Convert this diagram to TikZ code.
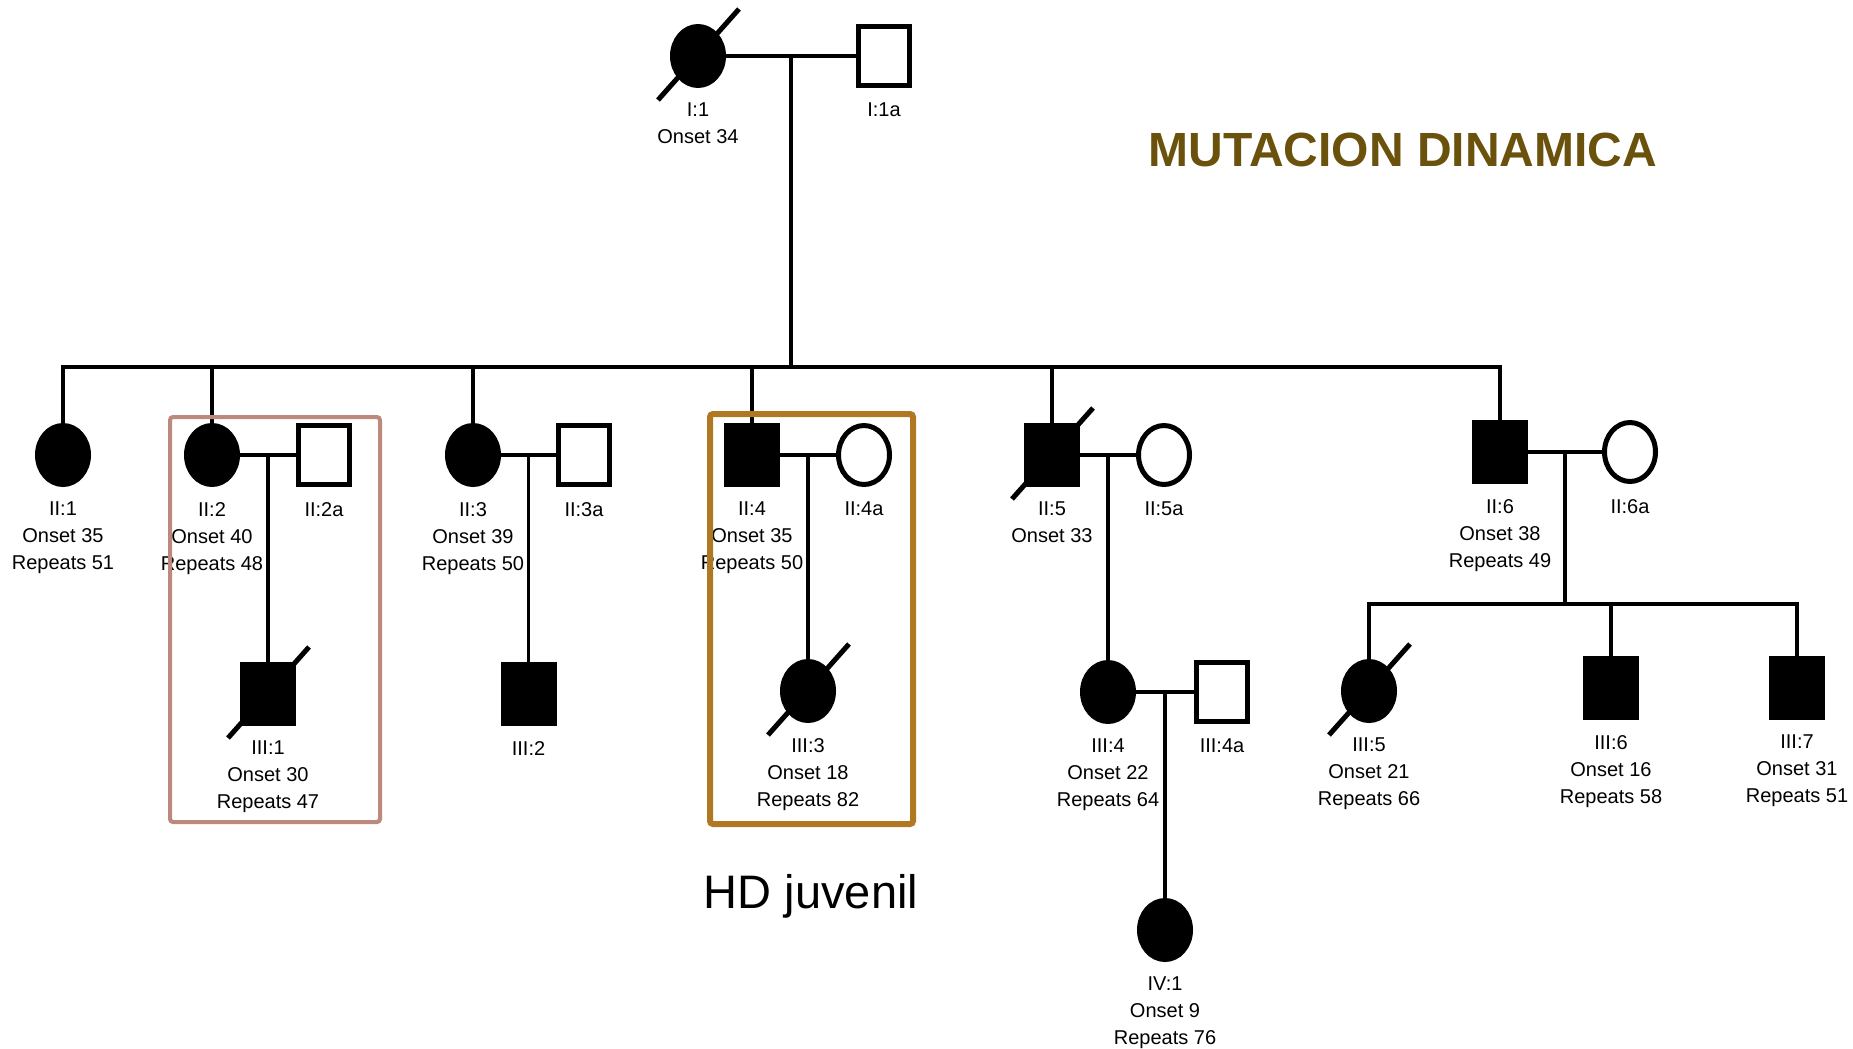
\documentclass[tikz,border=0pt]{standalone}
\usepackage{fontspec}
\setmainfont{Liberation Sans}
\usetikzlibrary{positioning,shapes.geometric,calc}
\definecolor{titlebrown}{RGB}{107,82,12}
\definecolor{rosebox}{RGB}{188,138,124}
\definecolor{goldbox}{RGB}{176,120,34}
\newcommand{\pedfont}{\fontsize{20bp}{27bp}\selectfont}

\begin{document}
\begin{tikzpicture}[x=1bp, y=1bp,
        male/.style={draw, rectangle, minimum width=51bp, minimum height=59bp,
                     inner sep=0pt, line width=5bp},
        female/.style={draw, ellipse, minimum width=51bp, minimum height=59bp,
                       inner sep=0pt, line width=5bp},
        aff/.style={fill=black},
        info/.style={font=\pedfont, align=center, inner sep=0pt, below=15bp of #1},
        link/.style={line width=3.5bp},
        deceased/.style={line width=5bp},
        groupbox/.style={line width=#1, rounded corners=3bp}
    ]
    \useasboundingbox (0,0) rectangle (1853,-1048);

    % generation I
    \node[female, aff] (i1) at (698,-56) {};
    \node[male, right=130bp of i1] (i1a) {};
    \node[info=i1] (i1t) {I:1\\Onset 34};
    \node[info=i1a] (i1at) {I:1a};
    \coordinate (mI) at ($(i1.east)!0.5!(i1a.west)$);
    \coordinate (sibI) at (mI |- 0,-367);

    % generation II
    \node[female, aff] (ii1) at (63,-455) {};
    \node[female, aff] (ii2) at (212,-455) {};
    \node[male, right=56bp of ii2] (ii2a) {};
    \node[female, aff] (ii3) at (473,-455) {};
    \node[male, right=55bp of ii3] (ii3a) {};
    \node[male, aff] (ii4) at (752,-455) {};
    \node[female, right=56bp of ii4] (ii4a) {};
    \node[male, aff] (ii5) at (1052,-455) {};
    \node[female, right=56bp of ii5] (ii5a) {};
    \node[male, aff] (ii6) at (1500,-452) {};
    \node[female, right=74bp of ii6] (ii6a) {};

    \node[info=ii1] (ii1t) {II:1\\Onset 35\\Repeats 51};
    \node[info=ii2] (ii2t) {II:2\\Onset 40\\Repeats 48};
    \node[info=ii2a] (ii2at) {II:2a};
    \node[info=ii3] (ii3t) {II:3\\Onset 39\\Repeats 50};
    \node[info=ii3a] (ii3at) {II:3a};
    \node[info=ii4] (ii4t) {II:4\\Onset 35\\Repeats 50};
    \node[info=ii4a] (ii4at) {II:4a};
    \node[info=ii5] (ii5t) {II:5\\Onset 33};
    \node[info=ii5a] (ii5at) {II:5a};
    \node[info=ii6] (ii6t) {II:6\\Onset 38\\Repeats 49};
    \node[info=ii6a] (ii6at) {II:6a};

    \coordinate (mii2) at ($(ii2.east)!0.5!(ii2a.west)$);
    \coordinate (mii3) at ($(ii3.east)!0.5!(ii3a.west)$);
    \coordinate (mii4) at ($(ii4.east)!0.5!(ii4a.west)$);
    \coordinate (mii5) at ($(ii5.east)!0.5!(ii5a.west)$);
    \coordinate (mii6) at ($(ii6.east)!0.5!(ii6a.west)$);
    \coordinate (sibII6) at (mii6 |- 0,-604);

    % generation III
    \node[male, aff] (iii1) at (mii2 |- 0,-694) {};
    \node[male, aff] (iii2) at (mii3 |- 0,-694) {};
    \node[female, aff] (iii3) at (mii4 |- 0,-691) {};
    \node[female, aff] (iii4) at (mii5 |- 0,-692) {};
    \node[male, right=58bp of iii4] (iii4a) {};
    \node[female, aff] (iii5) at (1369,-691) {};
    \node[male, aff] (iii6) at (1611,-688) {};
    \node[male, aff] (iii7) at (1797,-688) {};

    \node[info=iii1] (iii1t) {III:1\\Onset 30\\Repeats 47};
    \node[info=iii2] (iii2t) {III:2};
    \node[info=iii3] (iii3t) {III:3\\Onset 18\\Repeats 82};
    \node[info=iii4] (iii4t) {III:4\\Onset 22\\Repeats 64};
    \node[info=iii4a] (iii4at) {III:4a};
    \node[info=iii5] (iii5t) {III:5\\Onset 21\\Repeats 66};
    \node[info=iii6] (iii6t) {III:6\\Onset 16\\Repeats 58};
    \node[info=iii7] (iii7t) {III:7\\Onset 31\\Repeats 51};

    \coordinate (miii4) at ($(iii4.east)!0.5!(iii4a.west)$);

    % generation IV
    \node[female, aff] (iv1) at (miii4 |- 0,-930) {};
    \node[info=iv1] (iv1t) {IV:1\\Onset 9\\Repeats 76};

    % lines of descent
    \draw[link] (i1) -- (i1a);
    \draw[link] (mI) -- (sibI);
    \draw[link] (ii1) |- (sibI) -| (ii6);
    \foreach \n in {ii2,ii3,ii4,ii5}
        \draw[link] (\n) -- (\n |- sibI);
    \draw[link] (ii2) -- (ii2a);
    \draw[link] (ii3) -- (ii3a);
    \draw[link] (ii4) -- (ii4a);
    \draw[link] (ii5) -- (ii5a);
    \draw[link] (ii6) -- (ii6a);
    \draw[link] (mii2) -- (iii1);
    \draw[link] (mii3) -- (iii2);
    \draw[link] (mii4) -- (iii3);
    \draw[link] (mii5) -- (iii4);
    \draw[link] (mii6) -- (sibII6);
    \draw[link] (iii5) |- (sibII6) -| (iii7);
    \draw[link] (iii6) -- (iii6 |- sibII6);
    \draw[link] (iii4) -- (iii4a);
    \draw[link] (miii4) -- (iv1);

    % deceased
    \foreach \n in {i1,ii5,iii1,iii3,iii5}
        \draw[deceased] ($(\n)+(-40,-44)$) -- ($(\n)+(41,47)$);

    % highlighted families
    \draw[groupbox=4bp, rosebox] (170,-417) rectangle (380,-822);
    \draw[groupbox=6bp, goldbox] (710,-414) rectangle (913,-824);

    \node[font=\fontsize{48bp}{56bp}\selectfont\bfseries, text=titlebrown, anchor=base]
        (title) at (1403,-166) {MUTACION DINAMICA};
    \node[font=\fontsize{47bp}{56bp}\selectfont, anchor=base] (juv) at (811,-908) {HD juvenil};
\end{tikzpicture}
\end{document}
